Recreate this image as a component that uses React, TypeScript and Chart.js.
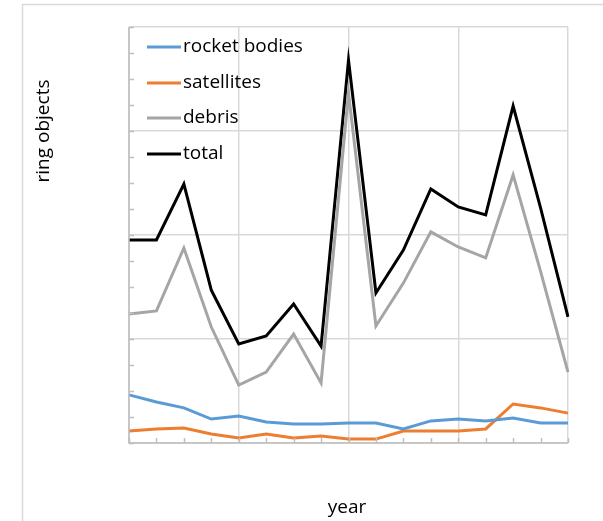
import React, { useEffect, useRef } from "react";
import { Chart, registerables } from "chart.js";

Chart.register(...registerables);

const categories = ["1", "2", "3", "4", "5", "6", "7", "8", "9", "10", "11", "12", "13", "14", "15", "16", "17"];
const rocketBodies = [1.85, 1.58, 1.35, 0.92, 1.04, 0.81, 0.73, 0.73, 0.77, 0.77, 0.54, 0.85, 0.92, 0.85, 0.96, 0.77, 0.77];
const satellites = [0.46, 0.54, 0.58, 0.35, 0.19, 0.35, 0.19, 0.27, 0.15, 0.15, 0.46, 0.46, 0.46, 0.54, 1.5, 1.35, 1.15];
const debris = [4.96, 5.08, 7.5, 4.46, 2.23, 2.73, 4.19, 2.31, 13.46, 4.5, 6.15, 8.12, 7.54, 7.12, 10.31, 6.6, 2.73];
const total = [7.81, 7.81, 9.96, 5.88, 3.81, 4.12, 5.35, 3.73, 14.73, 5.77, 7.42, 9.77, 9.08, 8.77, 12.96, 9.04, 4.85];
const seriesNames = ["rocket bodies", "satellites", "debris", "total"];
const seriesColors = ["#5b9bd5", "#ed7d31", "#a5a5a5", "#000000"];
const yAxisTitle = "ring objects";
const xAxisTitle = "year";

const FONT = "'Open Sans', Lato, sans-serif";

const decorPlugin = {
  id: "decor",
  beforeDraw(chart: any) {
    const ctx = chart.ctx;
    ctx.save();
    ctx.strokeStyle = "#d9d9d9";
    ctx.lineWidth = 1.5;
    ctx.beginPath();
    ctx.moveTo(22.5, 521);
    ctx.lineTo(22.5, 4.5);
    ctx.lineTo(603, 4.5);
    ctx.stroke();
    ctx.restore();
  },
  afterDatasetsDraw(chart: any) {
    const ctx = chart.ctx;
    const { left, bottom } = chart.chartArea;
    const xs = chart.scales.x;
    const ys = chart.scales.y;
    ctx.save();
    ctx.strokeStyle = "#bfbfbf";
    ctx.lineWidth = 1.5;
    ctx.beginPath();
    for (let v = 0; v <= 16; v++) {
      const y = Math.round(ys.getPixelForValue(v)) + 0.5;
      ctx.moveTo(left, y);
      ctx.lineTo(left + 5, y);
    }
    for (let i = 0; i < categories.length; i++) {
      const x = Math.round(xs.getPixelForValue(i)) + 0.5;
      ctx.moveTo(x, bottom);
      ctx.lineTo(x, bottom - 5);
    }
    ctx.stroke();
    ctx.beginPath();
    ctx.moveTo(left, chart.chartArea.top);
    ctx.lineTo(left, bottom);
    ctx.lineTo(chart.chartArea.right, bottom);
    ctx.stroke();

    // legend
    ctx.font = "19px " + FONT;
    ctx.textBaseline = "middle";
    ctx.fillStyle = "#000";
    const rows = [47, 83, 118, 154];
    chart.data.datasets.forEach((ds: any, i: number) => {
      const y = rows[i];
      ctx.strokeStyle = ds.borderColor;
      ctx.lineWidth = 3;
      ctx.beginPath();
      ctx.moveTo(147, y);
      ctx.lineTo(181, y);
      ctx.stroke();
      ctx.fillText(ds.label, 183, y);
    });

    // axis titles
    ctx.font = "19px " + FONT;
    ctx.textAlign = "center";
    ctx.textBaseline = "middle";
    ctx.fillText(xAxisTitle, 347, 508);
    ctx.translate(44, 131);
    ctx.rotate(-Math.PI / 2);
    ctx.fillText(yAxisTitle, 0, 0);
    ctx.restore();
  },
};

export default function App() {
  const ref = useRef<HTMLCanvasElement | null>(null);
  useEffect(() => {
    if (!ref.current) return;
    const series = [rocketBodies, satellites, debris, total];
    const chart = new Chart(ref.current, {
      type: "line",
      data: {
        labels: categories,
        datasets: series.map((d, i) => ({
          label: seriesNames[i],
          data: d,
          borderColor: seriesColors[i],
          backgroundColor: seriesColors[i],
          borderWidth: 3,
          pointRadius: 0,
          tension: 0,
          fill: false,
        })),
      },
      options: {
        animation: false,
        responsive: false,
        maintainAspectRatio: false,
        layout: { padding: { left: 129, top: 27, right: 35, bottom: 78 } },
        plugins: { legend: { display: false }, tooltip: { enabled: false } },
        scales: {
          x: {
            type: "category",
            offset: false,
            border: { display: false },
            ticks: { display: false },
            grid: {
              drawTicks: false,
              lineWidth: 1.5,
              color: (c: any) => (c.index % 4 === 0 ? "#d9d9d9" : "rgba(0,0,0,0)"),
            },
          },
          y: {
            min: 0,
            max: 16,
            border: { display: false },
            ticks: { display: false, stepSize: 4 },
            grid: { drawTicks: false, lineWidth: 1.5, color: "#d9d9d9" },
          },
        },
      },
      plugins: [decorPlugin],
    });
    return () => chart.destroy();
  }, []);
  return (
    <div style={{ position: "fixed", left: 0, top: 0, width: 603, height: 521, background: "#fff" }}>
      <canvas ref={ref} width={603} height={521} style={{ display: "block" }} />
    </div>
  );
}
